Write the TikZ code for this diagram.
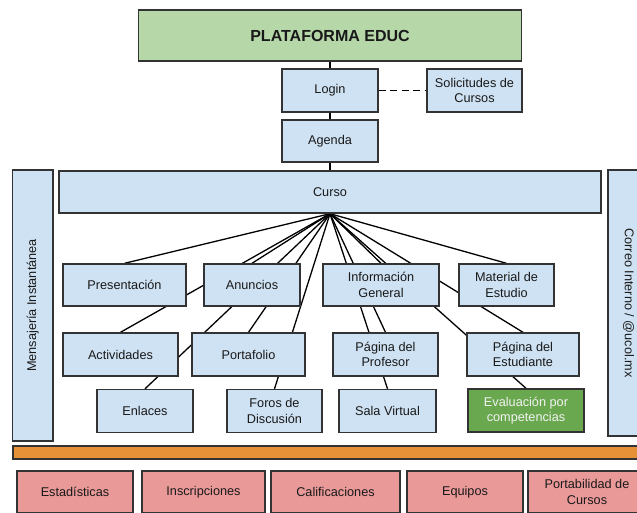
\documentclass[tikz,border=0pt]{standalone}
\usepackage{fontspec}
\setmainfont{Liberation Sans}
\usetikzlibrary{backgrounds}

\definecolor{boxblue}{HTML}{CFE2F3}
\definecolor{topgreen}{HTML}{B6D7A8}
\definecolor{evalgreen}{HTML}{6AA84F}
\definecolor{barorange}{HTML}{E69138}
\definecolor{toolpink}{HTML}{EA9999}
\definecolor{edgegray}{HTML}{333333}

\begin{document}
\begin{tikzpicture}[x=1pt,y=-1pt,
  font=\fontsize{12.7}{15.5}\selectfont,
  module/.style={draw=edgegray,line width=1.4pt,fill=boxblue,inner sep=0pt,
    align=center,text=black!90,minimum height=43pt},
  tool/.style={module,fill=toolpink,minimum height=42pt},
  link/.style={line width=1.3pt,black}]
\useasboundingbox (0,0) rectangle (637,512);
\clip (0,0) rectangle (637,512);

% platform and access chain
\node[module,fill=topgreen,minimum width=383pt,minimum height=51pt,
  font=\fontsize{16}{18}\selectfont\bfseries] (plataforma) at (330,35.5) {PLATAFORMA EDUC};
\node[module,minimum width=96pt] (login) at (330,90.5) {Login};
\node[module,minimum width=95pt] (solicitudes) at (474.5,90.5) {Solicitudes de\\Cursos};
\node[module,minimum width=96pt,minimum height=42pt] (agenda) at (330,141) {Agenda};
\node[module,minimum width=542pt,minimum height=42pt] (curso) at (330,192) {Curso};

\draw[link] (plataforma) -- (login) -- (agenda) -- (curso);
\draw[link,dash pattern=on 7pt off 4.5pt] (login) -- (solicitudes);

% side columns
\node[module,rotate=90,minimum width=271pt,minimum height=40.5pt] (mensajeria) at (32.75,305.5) {Mensajería Instantánea};
\node[module,rotate=-90,minimum width=266pt,minimum height=41pt] (correo) at (628.5,303) {Correo Interno / @ucol.mx};

% course sections
\node[module,minimum width=123pt,minimum height=42pt] (presentacion) at (124.5,285) {Presentación};
\node[module,minimum width=96pt,minimum height=42pt] (anuncios) at (252,285) {Anuncios};
\node[module,minimum width=116pt,minimum height=42pt] (informacion) at (381,285) {Información\\General};
\node[module,minimum width=95pt,minimum height=42pt] (material) at (506.5,285) {Material de\\Estudio};

\node[module,minimum width=115pt] (actividades) at (120.5,354.5) {Actividades};
\node[module,minimum width=113pt] (portafolio) at (248.5,354.5) {Portafolio};
\node[module,minimum width=105pt] (profesor) at (385.5,354.5) {Página del\\Profesor};
\node[module,minimum width=112pt] (estudiante) at (523,354.5) {Página del\\Estudiante};

\node[module,minimum width=96pt] (enlaces) at (145,411) {Enlaces};
\node[module,minimum width=95pt] (foros) at (274.5,411) {Foros de\\Discusión};
\node[module,minimum width=97pt] (sala) at (387.5,411) {Sala Virtual};
\node[module,fill=evalgreen,text=white!95!black,minimum width=116pt] (evaluacion) at (526,410.5) {Evaluación por\\competencias};

% fan from Curso, kept behind the boxes
\begin{scope}[on background layer]
\foreach \n in {presentacion,anuncios,informacion,material,actividades,portafolio,
    profesor,estudiante,enlaces,foros,sala,evaluacion}
  \draw[link] (curso.south) -- (\n.north);
\end{scope}

% admin bar and tools
\node[module,fill=barorange,minimum width=640pt,minimum height=13pt] (bus) at (333,452.5) {};

\node[tool,minimum width=116pt] (estadisticas) at (75,492) {Estadísticas};
\node[tool,minimum width=123pt] (inscripciones) at (203.5,492) {Inscripciones};
\node[tool,minimum width=129pt] (calificaciones) at (335.5,492) {Calificaciones};
\node[tool,minimum width=116pt] (equipos) at (465,492) {Equipos};
\node[tool,minimum width=118pt] (portabilidad) at (587,492) {Portabilidad de\\Cursos};
\end{tikzpicture}
\end{document}
